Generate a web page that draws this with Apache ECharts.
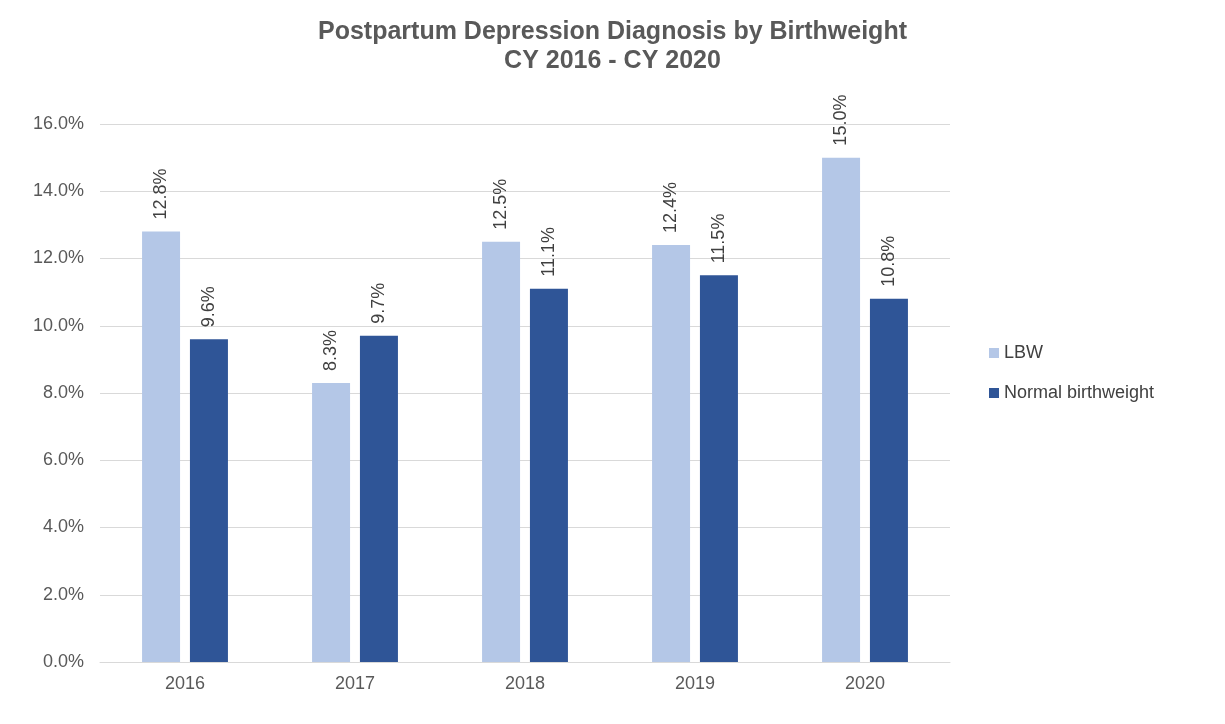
<!DOCTYPE html>
<html>
<head>
<meta charset="utf-8">
<script src="https://cdn.jsdelivr.net/npm/echarts@6/dist/echarts.min.js"></script>
<style>
  html, body { margin: 0; padding: 0; background: #fff; }
</style>
</head>
<body>
<div id="main" style="width: 1225px;height:724px;"></div>
<script type="text/javascript">
    var years = ['2016', '2017', '2018', '2019', '2020'];
    var lbw = [12.8, 8.3, 12.5, 12.4, 15.0];
    var normal = [9.6, 9.7, 11.1, 11.5, 10.8];

    var myChart = echarts.init(document.getElementById('main'));
    var font = 'Liberation Sans, Arial, sans-serif';
    var barLabel = {
        show: true,
        position: 'top',
        rotate: 90,
        align: 'left',
        verticalAlign: 'middle',
        distance: 12,
        color: '#404040',
        fontSize: 18,
        fontFamily: font,
        formatter: function (p) { return p.value.toFixed(1) + '%'; }
    };
    var option = {
        animation: false,
        title: {
            text: 'Postpartum Depression Diagnosis by Birthweight\nCY 2016 - CY 2020',
            left: 'center',
            top: 13,
            textStyle: {
                color: '#595959',
                fontSize: 25,
                fontWeight: 'bold',
                fontFamily: font,
                lineHeight: 29
            }
        },
        legend: {
            orient: 'vertical',
            left: 984,
            top: 339,
            itemWidth: 10,
            itemHeight: 10,
            itemGap: 22,
            icon: 'rect',
            textStyle: { color: '#404040', fontSize: 18, fontFamily: font }
        },
        grid: { left: 100, right: 275, top: 124, bottom: 62 },
        xAxis: {
            type: 'category',
            data: years,
            axisTick: { show: false },
            axisLine: { lineStyle: { color: '#d9d9d9', width: 1 } },
            axisLabel: { color: '#595959', fontSize: 18, fontFamily: font, margin: 13 }
        },
        yAxis: {
            type: 'value',
            min: 0,
            max: 16,
            interval: 2,
            axisLabel: {
                color: '#595959',
                fontSize: 18,
                fontFamily: font,
                margin: 16,
                formatter: function (v) { return v.toFixed(1) + '%'; }
            },
            splitLine: { lineStyle: { color: '#d9d9d9', width: 1 } }
        },
        series: [
            {
                name: 'LBW',
                type: 'bar',
                data: lbw,
                barWidth: 38,
                barGap: '26%',
                itemStyle: { color: '#b4c7e7' },
                label: barLabel
            },
            {
                name: 'Normal birthweight',
                type: 'bar',
                data: normal,
                barWidth: 38,
                itemStyle: { color: '#2f5597' },
                label: barLabel
            }
        ]
    };
    myChart.setOption(option);
</script>
</body>
</html>
